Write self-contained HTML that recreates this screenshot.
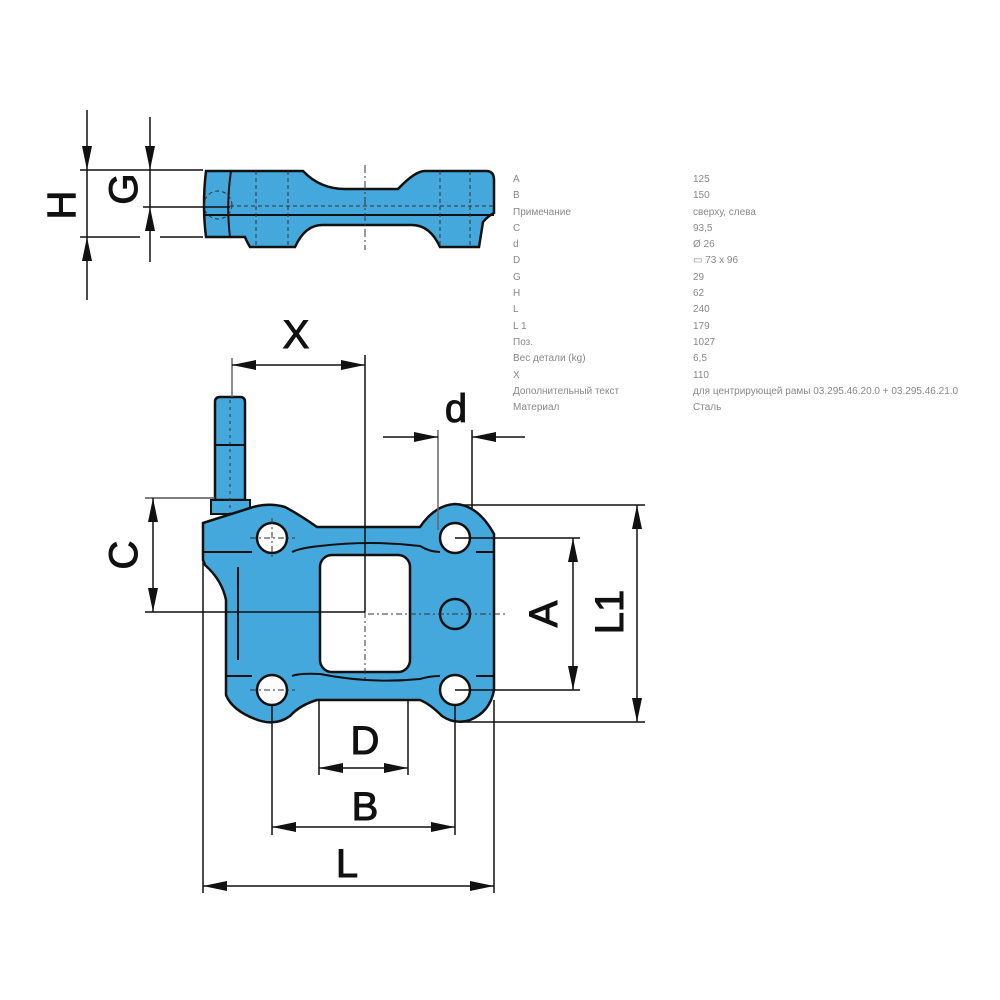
<!DOCTYPE html>
<html><head><meta charset="utf-8"><style>
html,body{margin:0;padding:0;background:#fff;}
.t{position:absolute;font-family:"Liberation Sans",Arial,sans-serif;font-size:10px;color:#888;line-height:16.3px;}
</style></head><body>
<div style="position:relative;width:1000px;height:1000px;overflow:hidden;">
<svg width="1000" height="1000" viewBox="0 0 1000 1000" style="position:absolute;left:0;top:0">
<defs>
<marker id="ar" viewBox="0 0 10 10" refX="10" refY="5" markerWidth="24" markerHeight="10" markerUnits="userSpaceOnUse" orient="auto-start-reverse" preserveAspectRatio="none"><path d="M0,0 L10,5 L0,10 z" fill="#111"/></marker>
</defs>
<g font-family="Liberation Sans,Arial,sans-serif" font-size="40" fill="#111" stroke="#111" stroke-width="1" text-anchor="middle">
<!-- TOP VIEW -->
<path d="M206,171 L303,171 Q320,189 345,189 L398,189 Q415,171 425,171 L486,171 Q494,171 494,180 L494,213 Q488,216 483,222 L479,247 L440,247 Q430,225 412,225 L322,225 Q305,225 295,247 L250,247 Q246,240 245,237 L206,237 Q202,205 206,171 Z" fill="#45a8dc" stroke="#111" stroke-width="2.5"/>
<line x1="203" y1="215" x2="494" y2="215" stroke="#111" stroke-width="2"/>
<path d="M231,171 Q226,205 230,237" fill="none" stroke="#111" stroke-width="2"/>
<g stroke="#333" stroke-width="1" stroke-dasharray="4,3" fill="none">
<line x1="256" y1="171" x2="256" y2="247"/><line x1="288" y1="171" x2="288" y2="247"/>
<line x1="440" y1="171" x2="440" y2="247"/><line x1="470" y1="171" x2="470" y2="247"/>
<line x1="230" y1="206" x2="494" y2="206"/>
<circle cx="218" cy="205" r="14"/>
</g>
<line x1="365" y1="165" x2="365" y2="250" stroke="#333" stroke-width="1" stroke-dasharray="8,3,2,3"/>
<g stroke="#111" stroke-width="1.5">
<line x1="80" y1="170" x2="203" y2="170"/><line x1="80" y1="237" x2="140" y2="237"/><line x1="160" y1="237" x2="203" y2="237"/>
<line x1="143" y1="207" x2="230" y2="207"/>
<line x1="87" y1="110" x2="87" y2="170" marker-end="url(#ar)"/>
<line x1="87" y1="300" x2="87" y2="237" marker-end="url(#ar)"/>
<line x1="87" y1="170" x2="87" y2="237"/>
<line x1="150" y1="117" x2="150" y2="170" marker-end="url(#ar)"/>
<line x1="150" y1="262" x2="150" y2="207" marker-end="url(#ar)"/>
<line x1="150" y1="170" x2="150" y2="207"/>
</g>
<text transform="translate(75,205) rotate(-90)">H</text>
<text transform="translate(137,189) rotate(-90)">G</text>

<!-- MAIN VIEW -->
<path d="M215,402 Q215,397 220,397 L240,397 Q245,397 245,402 L245,500 L215,500 Z" fill="#45a8dc" stroke="#111" stroke-width="2.5"/>
<line x1="215" y1="445" x2="245" y2="445" stroke="#111" stroke-width="2"/>
<rect x="211" y="500" width="39" height="14" fill="#45a8dc" stroke="#111" stroke-width="2"/>
<line x1="230" y1="400" x2="230" y2="515" stroke="#333" stroke-width="1" stroke-dasharray="3,4"/>
<path d="M203,523 L250,508 Q268,502 285,507 Q300,515 317,527 L420,527 Q435,505 455,504 Q478,505 494,534 L494,690 Q490,712 470,720 Q455,725 442,716 Q430,704 420,700 L317,700 Q300,705 290,716 Q275,727 255,719 Q232,710 226,695 L226,600 Q222,580 205,565 L203,560 Z" fill="#45a8dc" stroke="#111" stroke-width="2.5"/>
<rect x="320" y="555" width="90" height="117" rx="12" fill="#fff" stroke="#111" stroke-width="2.5"/>
<g fill="none" stroke="#111" stroke-width="2">
<path d="M203,552 L252,552"/><path d="M292,552 Q300,548 320,546 Q370,540 420,546 Q430,552 440,552"/><path d="M476,552 L494,552"/>
<path d="M226,676 L252,676"/><path d="M292,676 Q300,673 320,674 Q370,684 420,679 Q430,676 440,676"/><path d="M476,676 L494,676"/>
<line x1="238" y1="567" x2="238" y2="660"/>
</g>
<g fill="#fff" stroke="#111" stroke-width="2.5">
<circle cx="272" cy="538" r="15"/><circle cx="455" cy="538" r="15"/>
<circle cx="272" cy="690" r="15"/><circle cx="455" cy="690" r="15"/>
</g>
<circle cx="455" cy="614" r="15" fill="none" stroke="#111" stroke-width="2.5"/>
<g stroke="#333" stroke-width="1" stroke-dasharray="6,3,2,3">
<line x1="365" y1="612" x2="365" y2="680"/><line x1="368" y1="614" x2="505" y2="614"/>
<line x1="250" y1="538" x2="295" y2="538"/><line x1="250" y1="690" x2="295" y2="690"/>
<line x1="272" y1="518" x2="272" y2="560"/>
</g>
<g stroke="#111" stroke-width="1.5" fill="none">
<line x1="232" y1="358" x2="232" y2="397" stroke="#666"/>
<line x1="365" y1="355" x2="365" y2="612"/>
<line x1="232" y1="365" x2="365" y2="365" marker-start="url(#ar)" marker-end="url(#ar)"/>
<line x1="438" y1="430" x2="438" y2="530" stroke="#666"/>
<line x1="472" y1="430" x2="472" y2="510"/>
<line x1="383" y1="437" x2="438" y2="437" marker-end="url(#ar)"/>
<line x1="525" y1="437" x2="472" y2="437" marker-end="url(#ar)"/>
<line x1="145" y1="498" x2="215" y2="498" stroke="#555"/>
<line x1="145" y1="612" x2="365" y2="612"/>
<line x1="153" y1="498" x2="153" y2="612" marker-start="url(#ar)" marker-end="url(#ar)"/>
<line x1="455" y1="538" x2="580" y2="538"/><line x1="455" y1="690" x2="580" y2="690"/>
<line x1="573" y1="538" x2="573" y2="690" marker-start="url(#ar)" marker-end="url(#ar)"/>
<line x1="460" y1="505" x2="645" y2="505"/><line x1="460" y1="722" x2="645" y2="722"/>
<line x1="637" y1="505" x2="637" y2="722" marker-start="url(#ar)" marker-end="url(#ar)"/>
<line x1="319" y1="700" x2="319" y2="775"/><line x1="408" y1="700" x2="408" y2="775"/>
<line x1="319" y1="768" x2="408" y2="768" marker-start="url(#ar)" marker-end="url(#ar)"/>
<line x1="272" y1="705" x2="272" y2="835"/><line x1="455" y1="705" x2="455" y2="835"/>
<line x1="272" y1="827" x2="455" y2="827" marker-start="url(#ar)" marker-end="url(#ar)"/>
<line x1="203" y1="560" x2="203" y2="893"/><line x1="494" y1="700" x2="494" y2="893"/>
<line x1="203" y1="886" x2="494" y2="886" marker-start="url(#ar)" marker-end="url(#ar)"/>
</g>
<text x="296" y="348">X</text>
<text x="456" y="422">d</text>
<text transform="translate(137,555) rotate(-90)">C</text>
<text transform="translate(557,614) rotate(-90)">A</text>
<text transform="translate(623,612) rotate(-90)">L1</text>
<text x="365" y="754">D</text>
<text x="365" y="820">B</text>
<text x="347" y="877">L</text>
</g>
</svg>
<div class="t" style="left:513px;top:172px">A<br>B<br>Примечание<br>C<br>d<br>D<br>G<br>H<br>L<br>L 1<br>Поз.<br>Вес детали (kg)<br>X<br>Дополнительный текст<br>Материал</div>
<div class="t" style="left:693px;top:172px;white-space:nowrap">125<br>150<br>сверху, слева<br>93,5<br>Ø 26<br>▭ 73 x 96<br>29<br>62<br>240<br>179<br>1027<br>6,5<br>110<br>для центрирующей рамы 03.295.46.20.0 + 03.295.46.21.0<br>Сталь</div>
</div>
</body></html>
